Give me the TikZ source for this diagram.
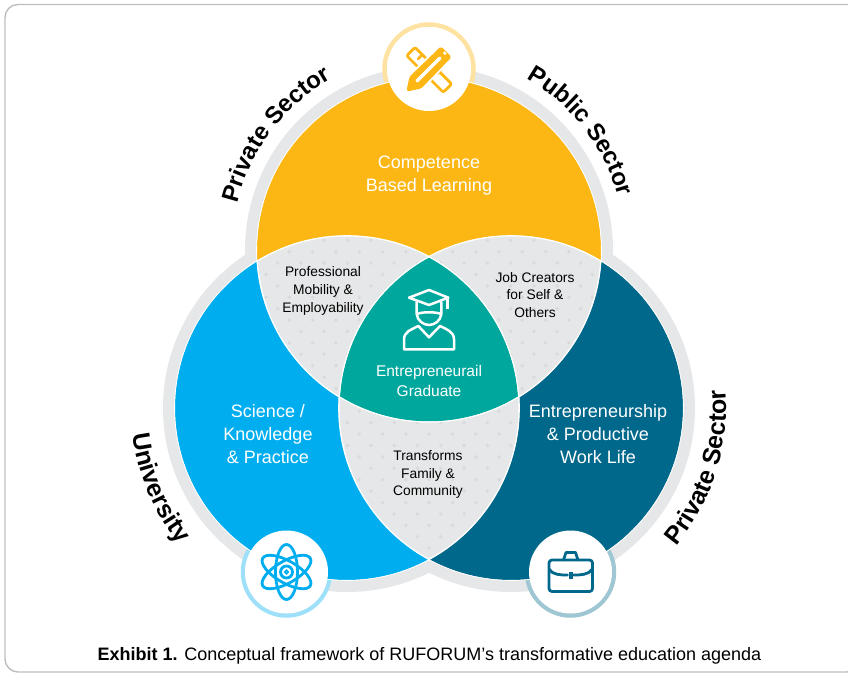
\documentclass[tikz,border=0pt]{standalone}
\usepackage{fontspec}
\setmainfont{Liberation Sans}
\usetikzlibrary{positioning,calc,decorations.text}
\definecolor{orangefill}{HTML}{FDB714}
\definecolor{bluefill}{HTML}{00AEEF}
\definecolor{petrolfill}{HTML}{00688B}
\definecolor{tealfill}{HTML}{00A79D}
\definecolor{lensgray}{HTML}{E6E7E8}
\definecolor{dotgray}{HTML}{D9DADC}
\definecolor{cardline}{HTML}{BDBEC0}
\tikzset{
  whitelabel/.style={text=white,font=\fontsize{18}{23}\selectfont,align=center},
  lenslabel/.style={text=black,font=\fontsize{13.8}{17.6}\selectfont,align=center},
  icondisc/.style={fill=white,draw=none},
  iconline/.style={line width=2.8pt,line join=round,line cap=round},
  arctext/.style 2 args={decorate,decoration={text along path,text align=center,
    text={|\fontsize{#1}{#1}\selectfont\bfseries|#2}}}
}
\begin{document}
\begin{tikzpicture}[x=1pt,y=1pt]
    \useasboundingbox (0,0) rectangle (848,675);
    % card
    \draw[cardline,line width=1.4pt,rounded corners=13pt] (5,3) rectangle (860,670.5);
    % circle centres
    \coordinate (topc) at (429,425);
    \coordinate (leftc) at (347,267);
    \coordinate (rightc) at (511,267);
    \coordinate (topicon) at (429,606);
    \coordinate (lefticon) at (286.5,103);
    \coordinate (righticon) at (570.5,103);
    % gray rings
    \foreach \c in {topc,leftc,rightc} \fill[lensgray] (\c) circle (184);
    \draw[orangefill!40,line width=4.5pt] (topicon) circle (44.5);
    \draw[bluefill!38,line width=4.5pt] (lefticon) circle (43.5);
    \draw[petrolfill!38,line width=4.5pt] (righticon) circle (43.5);
    % main circles
    \fill[orangefill] (topc) circle (172);
    \fill[bluefill] (leftc) circle (172);
    \fill[petrolfill] (rightc) circle (172);
    \foreach \c in {topc,leftc,rightc} \draw[white,line width=.8pt] (\c) circle (172.4);
    % overlap regions, with their dots
    \foreach \a/\b in {topc/leftc,topc/rightc,leftc/rightc} {
      \begin{scope}
        \clip (\a) circle (172);
        \clip (\b) circle (172);
        \fill[lensgray] (0,0) rectangle (848,675);
        \foreach \i in {0,...,16} \foreach \j in {0,...,28} {
          \fill[dotgray] ({242.7+23.3*\i+11.65*mod(\j,2)},{446.1-11.4*\j}) circle (1.9);
        }
      \end{scope}
    }
    % centre region
    \begin{scope}
      \clip (topc) circle (172);
      \clip (leftc) circle (172);
      \fill[tealfill] (rightc) circle (172);
    \end{scope}
    % white edges on the overlaps
    \foreach \a/\b in {topc/leftc,topc/rightc,leftc/topc,leftc/rightc,rightc/topc,rightc/leftc} {
      \begin{scope}
        \clip (\a) circle (173);
        \draw[white,line width=1pt] (\b) circle (172);
      \end{scope}
    }
    % icon discs
    \fill[icondisc] (topicon) circle (42);
    \fill[icondisc] (lefticon) circle (41.5);
    \fill[icondisc] (righticon) circle (41.5);
    % ruler and pencil
    \begin{scope}[shift={(topicon)}]
      \draw[orangefill,iconline,rounded corners=2pt] (-14,21.7) -- (-22.3,13.3) -- (14.3,-23.3) -- (22.7,-15) -- cycle;
      \draw[orangefill,iconline] (-11,10) -- (-7,14) (8,-5) -- (12,-1);
      \draw[white,line width=5pt,line join=round] (-22,-22) -- (-19,-8) -- (12,22) -- (22,12) -- (-8,-19) -- cycle;
      \draw[orangefill,fill=orangefill,line width=1pt,line join=round,rounded corners=1.5pt] (-22,-22) -- (-19,-8) -- (12,22) -- (22,12) -- (-8,-19) -- cycle;
      \draw[white,line width=3.4pt,line cap=round] (-12,-12) -- (11,11);
      \fill[white] (15.8,15.8) circle (1.8);
    \end{scope}
    % atom
    \begin{scope}[shift={(lefticon)}]
      \foreach \r in {90,30,-30} \draw[bluefill,iconline,rotate=\r] (0,0) ellipse (27.5 and 11);
      \draw[bluefill,line width=2.8pt,fill=white] (0,0) circle (6);
      \draw[bluefill,line width=1.6pt] (0,0) circle (1.8);
    \end{scope}
    % briefcase
    \begin{scope}[shift={(righticon)}]
      \draw[petrolfill,iconline,rounded corners=3pt] (-21.5,-19.5) rectangle (22,12);
      \draw[petrolfill,iconline] (-7,12) -- (-4.5,19.5) -- (5,19.5) -- (7.5,12);
      \draw[petrolfill,iconline] (-21.5,3) .. controls (-18,-3) and (-10,-3) .. (-3,-3);
      \draw[petrolfill,iconline] (22,3) .. controls (18,-3) and (10,-3) .. (3,-3);
      \fill[petrolfill] (-2,-6.5) rectangle (2,0.5);
    \end{scope}
    % graduate
    \begin{scope}[shift={(429,355)},x=.3333pt,y=-.3333pt,shift={(-297,-210)}]
      \draw[white,line width=2.5pt,line join=round] (237,143) -- (297,120) -- (355,143) -- (297,165) -- cycle;
      \draw[white,line width=2.5pt] (352,145) -- (352,178);
      \draw[white,line width=2.5pt] (260,155) -- (260,192) .. controls (262,212) and (280,225) .. (297,225) .. controls (314,225) and (332,212) .. (334,192) -- (334,155);
      \draw[white,line width=2.5pt] (260,192) .. controls (280,185) and (314,185) .. (334,192);
      \draw[white,line width=2.5pt,line join=round] (222,298) -- (222,268) .. controls (222,245) and (245,238) .. (265,228) -- (297,262) -- (330,228) .. controls (350,238) and (372,245) .. (372,268) -- (372,298) -- cycle;
    \end{scope}
    % labels
    \node[whitelabel] (competence) at (429,499.5) {Competence\\Based Learning};
    \node[whitelabel] (science) at (268,241) {Science /\\Knowledge\\\& Practice};
    \node[whitelabel] (entre) at (598,241) {Entrepreneurship\\\& Productive\\Work Life};
    \node[whitelabel,font=\fontsize{15.5}{20}\selectfont] (graduate) at (429,294) {Entrepreneurail\\Graduate};
    \node[lenslabel] (mobility) at (323,384) {Professional\\Mobility \&\\Employability};
    \node[lenslabel] (creators) at (535,380) {Job Creators\\for Self \&\\Others};
    \node[lenslabel] (family) at (428,200.5) {Transforms\\Family \&\\Community};
    \node[font=\fontsize{18}{20}\selectfont] (caption) at (429.5,19.5) {\textbf{Exhibit 1.} Conceptual framework of RUFORUM’s transformative education agenda};
    % curved labels
    \path[arctext={24}{Private Sector}] ($(topc)+(173:197)$) arc[start angle=173,end angle=113,radius=197];
    \path[arctext={24}{Public Sector}] ($(topc)+(68:197)$) arc[start angle=68,end angle=8,radius=197];
    \path[arctext={25}{University}] ($(leftc)+(177:216)$) arc[start angle=177,end angle=229,radius=216];
    \path[arctext={25}{Private Sector}] ($(rightc)+(-48:215)$) arc[start angle=-48,end angle=13,radius=215];
\end{tikzpicture}
\end{document}
